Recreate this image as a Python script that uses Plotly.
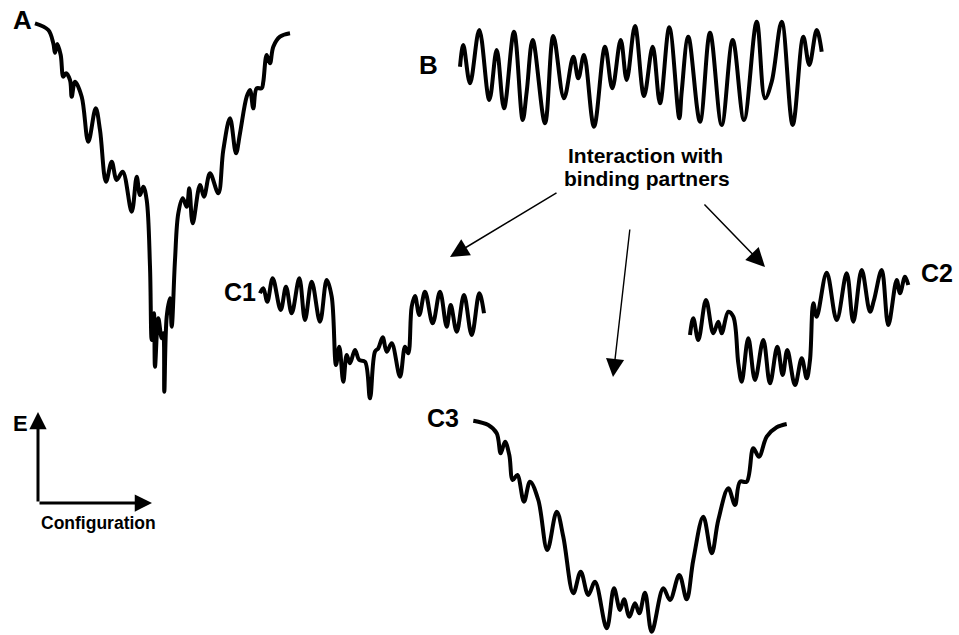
import plotly.graph_objects as go

# ---- Energy landscape traces (x = configuration, y = energy, screen units) ----
a_x = [35, 48.3, 53.3, 55, 57.3, 60.7, 63.3, 66, 70, 71.7, 75, 81.7, 88.3, 95.7, 100, 106, 111.7, 116.7,
       122.7, 131.7, 136.7, 140, 143.3, 146.7, 150, 151.7, 154, 155, 158.3, 161.7, 163.3, 164.3, 166.7,
       170, 171.7, 175, 178.3, 182.7, 186.7, 189.3, 192.7, 200, 204, 210, 218.3, 223.3, 230, 236, 240,
       246.7, 250, 253.3, 256.7, 261.7, 263.3, 266.7, 270, 273.3, 280, 290]
a_y = [23.3, 30, 43.3, 52.7, 44, 55, 76.7, 73.3, 80, 96.7, 81.7, 96.7, 141.7, 108.3, 130, 181.7, 161.7, 180,
       171.7, 211.7, 176.7, 195, 186.7, 200, 266.7, 340, 313.3, 366.7, 318.3, 338.3, 333.3, 391.7, 316.7,
       298.3, 326.7, 260, 213.3, 198.3, 206.7, 188.3, 223.3, 185, 196.7, 173.3, 193.3, 150, 118.3, 153.3, 133.3,
       96.7, 90, 108.3, 88.3, 88.3, 81.7, 55, 63.3, 46.7, 36.7, 33.3]

b_x = [460, 463.3, 470, 479.3, 489.3, 496.7, 504, 514, 522.7, 526.7, 532.7, 545, 553.3, 564, 573.3, 578.3,
       584, 594, 605, 612.3, 620.7, 626.7, 635, 644, 652.7, 660, 669.3, 679.3, 681.7, 688.3, 700, 710,
       721.7, 732.7, 744, 756.7, 765, 771.7, 781.7, 792.7, 803.3, 809.3, 816.7, 821.7]
b_y = [66.7, 45, 83.3, 30, 100, 50, 108.3, 31.7, 120, 91.7, 40, 123.3, 36, 98.3, 56.7, 78.3,
       55, 126.7, 46.7, 88.3, 40, 80, 26, 96, 46.7, 103.3, 27.3, 118.3, 91.7, 36.7, 121.7, 32.7,
       125, 40, 120, 21.7, 98.3, 81.7, 21.7, 125, 36.7, 65, 30, 51.7]

c1_x = [260, 263.3, 267.3, 272.7, 280.7, 286, 291.7, 299.3, 305, 311.7, 320, 326.7, 331.7, 336, 339.3,
        343.3, 346.7, 350, 355, 359.3, 365, 370, 375, 378.3, 382.7, 386.7, 391.7, 400, 405, 408.3, 411.7,
        415, 419.3, 425, 432.7, 440, 446.7, 450.7, 456.7, 464, 471.7, 479.3, 484]
c1_y = [293.3, 288.3, 301.7, 278.3, 310, 286.7, 313.3, 278.3, 320, 281.7, 321.7, 280, 296.7, 365, 346.7,
        381.7, 355, 363.3, 350, 360, 361.7, 398.3, 351.7, 348.3, 337.3, 351.7, 343.3, 376.7, 346.7, 353.3, 306.7,
        296, 315, 291.7, 323.3, 291.7, 326.7, 305, 331.7, 295, 335, 293.3, 313.3]

c2_x = [690, 693.3, 698.3, 706, 713.3, 718.3, 721.7, 728.3, 733.3, 738.3, 741.7, 748.3, 755, 763.3, 770,
        777.3, 782.7, 787.3, 795, 801.7, 806.7, 810, 813.3, 816.7, 826.7, 836.7, 846.7, 853.3, 861.7, 870,
        874, 881.7, 888.3, 896.7, 900, 905, 908.3]
c2_y = [335, 318.3, 340, 300, 333.3, 321.7, 333.3, 311.7, 316.7, 363.3, 381.7, 338.3, 380, 340, 383.3,
        346.7, 375, 350, 385, 358.3, 378.3, 360, 303.3, 316.7, 272.7, 320, 273.3, 321.7, 270, 311.7,
        300, 270, 325, 280, 293.3, 276.7, 285]

c3_x = [473.3, 488.3, 496.7, 500.7, 505, 509.3, 512.7, 517.3, 524, 530, 538.3, 547.3, 556.7, 563.3, 573.3,
        580.7, 588.3, 595, 606.7, 614, 620, 624, 629.3, 635, 639.3, 645, 651.7, 663.3, 670, 679.3, 686.7,
        693.3, 703.3, 711.7, 718.3, 728.3, 735, 740, 746.7, 753.3, 759, 766.7, 776.7, 786.7]
c3_y = [420.7, 425, 433.3, 453.3, 441.7, 455, 480, 475, 501.7, 481.7, 500, 550, 511.7, 536.7, 593.3,
        571.7, 595, 581.7, 628.3, 588.3, 610, 599.3, 616.7, 603.3, 613.3, 592.7, 631.7, 588.3, 600, 575, 599.3,
        560, 516.7, 553.3, 520, 488.3, 505, 481.7, 481.7, 448.3, 456.7, 436.7, 427.3, 424]

curves = [(a_x, a_y), (b_x, b_y), (c1_x, c1_y), (c2_x, c2_y), (c3_x, c3_y)]

fig = go.Figure()
for cx, cy in curves:
    fig.add_trace(go.Scatter(x=cx, y=cy, mode="lines",
                             line=dict(color="black", width=4, shape="spline", smoothing=1.0),
                             hoverinfo="skip", showlegend=False))

FONT = "Liberation Sans, Arial, sans-serif"

def label(text, x, y, size):
    fig.add_annotation(x=x, y=y, xref="x", yref="y", text=f"<b>{text}</b>", showarrow=False,
                       font=dict(family=FONT, size=size, color="black"),
                       xanchor="center", yanchor="middle")

label("A", 22, 20, 26)
label("B", 428, 65, 26)
label("C1", 240, 292, 25)
label("C2", 937, 273, 25)
label("C3", 443, 418, 25)
label("E", 20, 423, 22)
label("Configuration", 98, 523, 17.5)
label("Interaction with", 645, 155, 21)
label("binding partners", 647, 178, 21)

def arrow(x0, y0, x1, y1, width, size):
    fig.add_annotation(x=x1, y=y1, ax=x0, ay=y0, xref="x", yref="y", axref="x", ayref="y",
                       text="", showarrow=True, arrowhead=2, arrowwidth=width,
                       arrowsize=size, arrowcolor="black")

# binding-partner arrows
arrow(558, 192, 450, 257, 1.5, 2.5)
arrow(630, 228, 613, 377, 1.4, 2.6)
arrow(703, 203, 765, 267, 1.5, 2.5)
# E / Configuration axes
arrow(38, 503, 38, 412, 3, 1.15)
arrow(38, 503, 152, 503, 3, 1.15)

fig.update_layout(
    width=959, height=635,
    margin=dict(l=0, r=0, t=0, b=0),
    paper_bgcolor="white", plot_bgcolor="white",
    xaxis=dict(range=[0, 959], visible=False, fixedrange=True),
    yaxis=dict(range=[635, 0], visible=False, fixedrange=True),
)

fig.write_html("out.html", config={"displayModeBar": False, "staticPlot": True},
               post_script="document.body.style.margin='0px';document.body.style.overflow='hidden';")
